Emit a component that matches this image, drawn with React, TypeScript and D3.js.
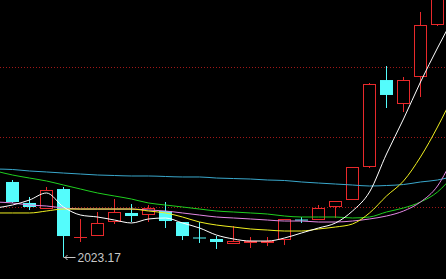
import React from "react";
import * as d3 from "d3";

const W = 446;
const H = 279;

// candle OHLC (price units)
const opens = [2129.7, 2099.9, 2092.8, 2119.7, 2051.6, 2054.4, 2074.3, 2085.7, 2084.2, 2088.5, 2072.9, 2050.9, 2048.8, 2043.1, 2044.5, 2044.5, 2048.8, 2076.4, 2077.1, 2095.6, 2105.5, 2152.4, 2274.4, 2241.8, 2280.1, 2353.9];
const highs = [2132.5, 2108.4, 2122.6, 2122.6, 2077.1, 2087.1, 2105.5, 2098.4, 2097.0, 2101.3, 2072.9, 2072.9, 2053.0, 2067.2, 2051.6, 2051.6, 2077.1, 2080.0, 2097.0, 2102.7, 2150.8, 2270.2, 2294.3, 2278.7, 2371.0, 2409.0];
const lows = [2099.9, 2089.9, 2092.8, 2023.17, 2044.5, 2053.0, 2070.1, 2072.9, 2072.9, 2064.4, 2047.3, 2043.1, 2034.6, 2041.7, 2036.0, 2038.8, 2040.2, 2071.5, 2077.1, 2078.6, 2104.1, 2149.5, 2234.7, 2229.0, 2250.3, 2351.1];
const closes = [2101.3, 2094.2, 2118.3, 2053.0, 2052.3, 2071.5, 2087.1, 2081.4, 2092.8, 2074.3, 2053.0, 2049.5, 2044.5, 2045.9, 2045.9, 2045.9, 2077.1, 2075.0, 2092.8, 2102.7, 2150.8, 2268.8, 2253.2, 2274.4, 2352.5, 2402.2];

// moving averages, indices -1 .. 26
const maWhite = [2092.8, 2097.0, 2104.1, 2114.1, 2094.2, 2082.8, 2080.0, 2075.7, 2071.5, 2077.2, 2078.6, 2071.5, 2064.4, 2054.4, 2048.8, 2045.9, 2045.9, 2050.2, 2057.3, 2064.4, 2071.5, 2088.5, 2115.5, 2169.4, 2219.1, 2271.6, 2319.9, 2365.3];
const maYellow = [2085.7, 2085.7, 2085.7, 2088.5, 2091.3, 2091.3, 2091.3, 2091.3, 2091.3, 2088.5, 2085.7, 2080.0, 2072.9, 2068.6, 2065.8, 2063.0, 2061.5, 2060.1, 2060.1, 2063.0, 2065.8, 2070.1, 2085.7, 2109.8, 2131.1, 2165.2, 2207.7, 2256.0];
const maPink = [2101.3, 2099.9, 2097.0, 2095.6, 2092.8, 2091.3, 2091.3, 2091.3, 2091.3, 2089.9, 2088.5, 2085.7, 2082.8, 2080.0, 2078.6, 2077.2, 2075.7, 2074.3, 2074.3, 2072.9, 2072.9, 2074.3, 2077.2, 2081.4, 2088.5, 2101.3, 2124.0, 2169.4];
const maGreen = [2145.3, 2139.6, 2135.3, 2131.1, 2125.4, 2119.7, 2114.1, 2109.8, 2105.5, 2099.9, 2097.0, 2094.2, 2091.3, 2088.5, 2087.1, 2085.7, 2084.2, 2081.4, 2080.0, 2080.0, 2080.0, 2078.6, 2080.0, 2087.1, 2092.8, 2101.3, 2115.5, 2141.0];
const maCyan = [2148.1, 2147.4, 2145.3, 2143.9, 2142.4, 2141.0, 2139.6, 2138.9, 2138.2, 2138.2, 2137.5, 2136.8, 2136.8, 2135.3, 2134.6, 2133.9, 2132.5, 2131.8, 2129.7, 2128.2, 2126.8, 2125.4, 2124.0, 2124.7, 2126.1, 2129.7, 2132.5, 2138.2];

const gridLevels = [2093.5, 2193.5, 2293.5];
const lowLabel = "2023.17";
const lowIndex = 3;

const UP = "#e8292b";
const DOWN = "#54fcfc";

export default function App() {
  const idx = d3.range(opens.length);
  const xBand = d3.scaleBand<number>().domain(idx).range([4, W]).padding(0);
  const cx = (i: number) => (xBand(i) as number) + xBand.bandwidth() / 2;
  const xLin = d3.scaleLinear().domain([0, opens.length - 1]).range([cx(0), cx(opens.length - 1)]);
  const y = d3.scaleLinear().domain([1992, 2388]).range([H, 0]);
  const half = 6;

  const lineGen = d3
    .line<number>()
    .x((_, k) => xLin(k - 1))
    .y((v) => y(v))
    .curve(d3.curveMonotoneX);

  const mas: [number[], string][] = [
    [maCyan, "#3aa8cc"],
    [maGreen, "#1fcf1f"],
    [maPink, "#e488e4"],
    [maYellow, "#f0f020"],
    [maWhite, "#ffffff"],
  ];

  const r = (v: number) => Math.round(v) + 0.5;

  return (
    <svg
      width={W}
      height={H}
      style={{ position: "fixed", left: 0, top: 0, display: "block", background: "#000" }}
    >
      <rect x={0} y={0} width={W} height={H} fill="#000" />
      {gridLevels.map((g, i) => (
        <line
          key={i}
          x1={0}
          x2={W}
          y1={r(y(g))}
          y2={r(y(g))}
          stroke="#a01818"
          strokeWidth={1}
          strokeDasharray="1 2"
        />
      ))}
      {idx.map((i) => {
        const o = opens[i];
        const c = closes[i];
        const x = cx(i);
        const yo = y(o);
        const yc = y(c);
        const yh = y(highs[i]);
        const yl = y(lows[i]);
        const top = Math.min(yo, yc);
        const bot = Math.max(yo, yc);
        if (c >= o) {
          const t = r(top);
          const b = Math.max(r(bot), t);
          return (
            <g key={i}>
              {yh < t && <line x1={x} x2={x} y1={yh} y2={t} stroke={UP} />}
              {yl > b && <line x1={x} x2={x} y1={b} y2={yl} stroke={UP} />}
              {b - t < 1 ? (
                <line x1={x - half - 0.5} x2={x + half + 0.5} y1={t} y2={t} stroke={UP} />
              ) : (
                <rect x={x - half} y={t} width={half * 2} height={b - t} fill="#000" stroke={UP} strokeWidth={1} />
              )}
            </g>
          );
        }
        const hgt = Math.max(bot - top, 1);
        return (
          <g key={i}>
            <line x1={x} x2={x} y1={yh} y2={yl} stroke={DOWN} />
            <rect x={x - half - 0.5} y={top} width={half * 2 + 1} height={hgt} fill={DOWN} />
          </g>
        );
      })}
      {mas.map(([vals, col], k) => (
        <path key={k} d={lineGen(vals) || ""} fill="none" stroke={col} strokeWidth={1} />
      ))}
      {(() => {
        const x = cx(lowIndex);
        const yy = Math.round(y(lows[lowIndex])) + 0.5;
        return (
          <g>
            <line x1={x} x2={x + 12} y1={yy} y2={yy} stroke="#c8c8c8" />
            <path d={`M${x + 4},${yy - 2.5} L${x + 1.5},${yy} L${x + 4},${yy + 2.5}`} fill="none" stroke="#c8c8c8" />
            <text
              x={x + 14}
              y={yy + 4.5}
              fill="#c8c8c8"
              fontSize={12}
              fontFamily="Liberation Sans, Arial, sans-serif"
            >
              {lowLabel}
            </text>
          </g>
        );
      })()}
    </svg>
  );
}
